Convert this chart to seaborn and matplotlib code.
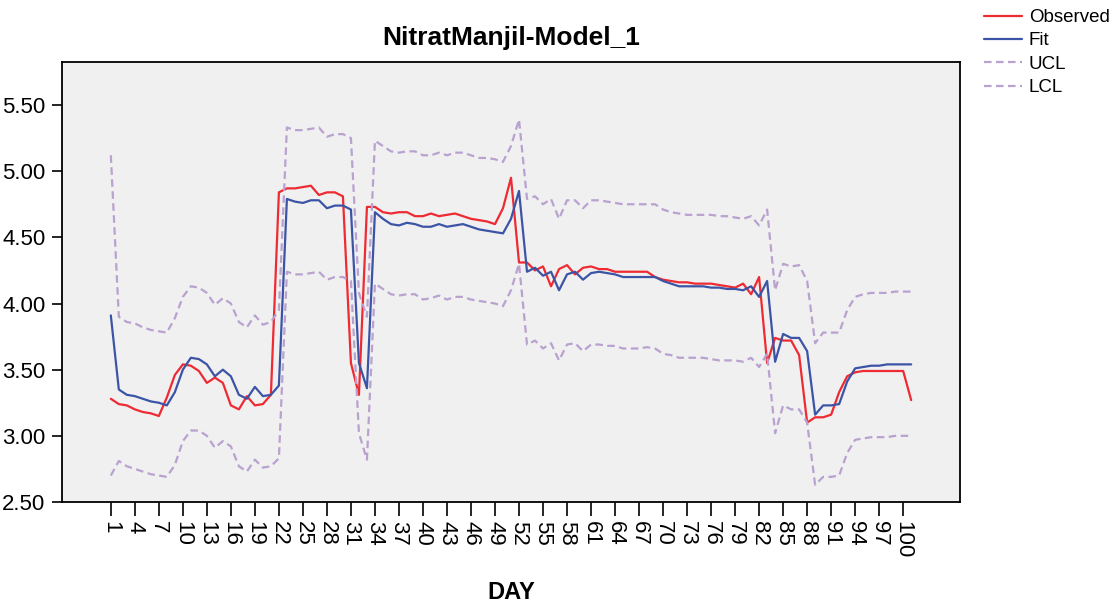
import matplotlib
matplotlib.use("Agg")
import matplotlib.pyplot as plt
import pandas as pd
import seaborn as sns

# data (DAY 1..101)
days = list(range(1, 102))
observed = [3.28, 3.24, 3.23, 3.20, 3.18, 3.17, 3.15, 3.29, 3.46, 3.54,
            3.53, 3.49, 3.40, 3.44, 3.40, 3.23, 3.20, 3.30, 3.23, 3.24,
            3.31, 4.84, 4.87, 4.87, 4.88, 4.89, 4.82, 4.84, 4.84, 4.81,
            3.55, 3.31, 4.73, 4.73, 4.69, 4.68, 4.69, 4.69, 4.66, 4.66,
            4.68, 4.66, 4.67, 4.68, 4.66, 4.64, 4.63, 4.62, 4.60, 4.72,
            4.95, 4.31, 4.31, 4.25, 4.28, 4.13, 4.26, 4.29, 4.22, 4.27,
            4.28, 4.26, 4.26, 4.24, 4.24, 4.24, 4.24, 4.24, 4.20, 4.18,
            4.17, 4.16, 4.16, 4.15, 4.15, 4.15, 4.14, 4.13, 4.12, 4.15,
            4.07, 4.20, 3.55, 3.74, 3.72, 3.72, 3.61, 3.10, 3.14, 3.14,
            3.16, 3.33, 3.45, 3.48, 3.49, 3.49, 3.49, 3.49, 3.49, 3.49,
            3.27]
fit = [3.91, 3.35, 3.31, 3.30, 3.28, 3.26, 3.25, 3.23, 3.33, 3.50,
       3.59, 3.58, 3.54, 3.45, 3.50, 3.45, 3.31, 3.28, 3.37, 3.30,
       3.31, 3.38, 4.79, 4.77, 4.76, 4.78, 4.78, 4.72, 4.74, 4.74,
       4.71, 3.55, 3.36, 4.69, 4.64, 4.60, 4.59, 4.61, 4.60, 4.58,
       4.58, 4.60, 4.58, 4.59, 4.60, 4.58, 4.56, 4.55, 4.54, 4.53,
       4.64, 4.85, 4.24, 4.27, 4.21, 4.24, 4.10, 4.22, 4.24, 4.18,
       4.23, 4.24, 4.23, 4.22, 4.20, 4.20, 4.20, 4.20, 4.20, 4.17,
       4.15, 4.13, 4.13, 4.13, 4.13, 4.12, 4.12, 4.11, 4.11, 4.10,
       4.13, 4.05, 4.17, 3.56, 3.77, 3.74, 3.74, 3.64, 3.16, 3.23,
       3.23, 3.24, 3.41, 3.51, 3.52, 3.53, 3.53, 3.54, 3.54, 3.54,
       3.54]
ucl = [5.12, 3.90, 3.86, 3.85, 3.82, 3.80, 3.79, 3.78, 3.89, 4.05,
       4.13, 4.12, 4.08, 3.99, 4.04, 4.00, 3.86, 3.82, 3.91, 3.84,
       3.86, 3.95, 5.33, 5.31, 5.31, 5.32, 5.33, 5.26, 5.28, 5.28,
       5.25, 4.08, 3.90, 5.23, 5.19, 5.15, 5.14, 5.15, 5.15, 5.12,
       5.12, 5.14, 5.12, 5.14, 5.14, 5.12, 5.10, 5.10, 5.09, 5.07,
       5.19, 5.39, 4.79, 4.81, 4.75, 4.79, 4.64, 4.78, 4.78, 4.72,
       4.78, 4.78, 4.77, 4.76, 4.75, 4.75, 4.75, 4.75, 4.75, 4.71,
       4.69, 4.68, 4.67, 4.67, 4.67, 4.67, 4.66, 4.66, 4.65, 4.64,
       4.66, 4.59, 4.71, 4.10, 4.30, 4.28, 4.29, 4.17, 3.70, 3.78,
       3.78, 3.78, 3.95, 4.05, 4.07, 4.08, 4.08, 4.08, 4.09, 4.09,
       4.09]
lcl = [2.70, 2.81, 2.77, 2.75, 2.73, 2.71, 2.70, 2.69, 2.78, 2.96,
       3.04, 3.04, 3.00, 2.91, 2.96, 2.92, 2.77, 2.73, 2.82, 2.76,
       2.77, 2.83, 4.24, 4.22, 4.22, 4.23, 4.24, 4.18, 4.20, 4.20,
       4.17, 3.02, 2.82, 4.15, 4.11, 4.07, 4.06, 4.07, 4.07, 4.03,
       4.04, 4.06, 4.03, 4.05, 4.05, 4.03, 4.02, 4.01, 4.00, 3.98,
       4.10, 4.30, 3.69, 3.72, 3.66, 3.70, 3.57, 3.69, 3.70, 3.64,
       3.69, 3.69, 3.68, 3.68, 3.66, 3.66, 3.66, 3.67, 3.66, 3.62,
       3.61, 3.59, 3.59, 3.59, 3.59, 3.58, 3.57, 3.57, 3.57, 3.56,
       3.59, 3.52, 3.62, 3.02, 3.23, 3.20, 3.20, 3.10, 2.63, 2.69,
       2.69, 2.70, 2.87, 2.97, 2.98, 2.99, 2.99, 2.99, 3.00, 3.00,
       3.00]

series_names = ["Observed", "Fit", "UCL", "LCL"]
series_colors = ["#ee2a32", "#3c54a6", "#b9a1d0", "#b9a1d0"]
x_ticks = list(range(1, 101, 3))
y_ticks = [2.5, 3.0, 3.5, 4.0, 4.5, 5.0, 5.5]

df = pd.DataFrame({"DAY": days, "Observed": observed, "Fit": fit,
                   "UCL": ucl, "LCL": lcl})
long_df = df.melt(id_vars="DAY", var_name="series", value_name="value")

sns.set_style("white")
plt.rcParams["font.family"] = ["Liberation Sans", "DejaVu Sans"]
plt.rcParams["text.color"] = "black"
plt.rcParams["axes.labelcolor"] = "black"
plt.rcParams["xtick.color"] = "black"
plt.rcParams["ytick.color"] = "black"

fig = plt.figure(figsize=(11.16, 6.05), dpi=100)
ax = fig.add_axes([62 / 1116, 1 - 502 / 605, 898 / 1116, 440 / 605])
sns.lineplot(data=long_df, x="DAY", y="value", hue="series", style="series",
             hue_order=series_names, style_order=series_names,
             palette=dict(zip(series_names, series_colors)),
             dashes={"Observed": "", "Fit": "", "UCL": (3.4, 2.0), "LCL": (3.4, 2.0)},
             linewidth=1.6, ax=ax)

ax.set_facecolor("#f0f0f0")
for sp in ax.spines.values():
    sp.set_color("black")
    sp.set_linewidth(1.3)

ax.set_xlim(-5.1, 107.1)
ax.set_ylim(2.5, 5.825)
ax.set_xticks(x_ticks)
ax.set_xticklabels([str(t) for t in x_ticks], rotation=270, fontsize=16)
ax.set_yticks(y_ticks)
ax.set_yticklabels([f"{t:.2f}" for t in y_ticks], fontsize=16)
ax.tick_params(axis="x", length=10, width=1.2, color="black", direction="out", bottom=True, pad=4)
ax.tick_params(axis="y", length=7, width=1.2, color="black", direction="out", left=True, pad=5)

ax.set_title("NitratManjil-Model_1", fontsize=19, fontweight="bold", pad=12)
ax.set_xlabel("DAY", fontsize=17, fontweight="bold", labelpad=16)
ax.set_ylabel("")

handles, labels = ax.get_legend_handles_labels()
ax.get_legend().remove()
fig.legend(handles, labels, loc="upper left", bbox_to_anchor=(984 / 1116, 1 - 9 / 605),
           frameon=False, fontsize=13.5, handlelength=2.0, handletextpad=0.4,
           labelspacing=0.33, borderpad=0, borderaxespad=0)

fig.savefig("out.png", dpi=100)
